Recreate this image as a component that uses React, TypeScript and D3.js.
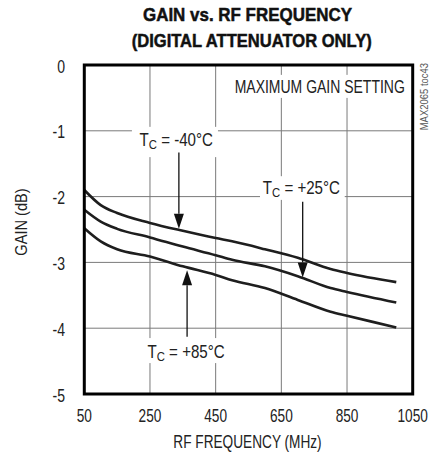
import React from "react";
import * as d3 from "d3";

const FREQ = [50, 100, 150, 250, 350, 450, 500, 600, 700, 800, 850, 1000];
const GAIN_M40 = [-1.9, -2.13, -2.25, -2.4, -2.52, -2.63, -2.68, -2.8, -2.93, -3.1, -3.16, -3.3];
const GAIN_P25 = [-2.2, -2.38, -2.49, -2.62, -2.76, -2.89, -2.96, -3.06, -3.21, -3.39, -3.45, -3.61];
const GAIN_P85 = [-2.48, -2.68, -2.8, -2.91, -3.06, -3.19, -3.27, -3.39, -3.57, -3.75, -3.81, -3.99];
const X_TICKS = [50, 250, 450, 650, 850, 1050];
const Y_TICKS = [0, -1, -2, -3, -4, -5];

const SERIES = [GAIN_M40, GAIN_P25, GAIN_P85];

const LABELS = [
  { temp: "-40°C", f: 330, g: -1.14, bf0: 195, bf1: 457, bg0: -0.94, bg1: -1.4 },
  { temp: "+25°C", f: 711, g: -1.87, bf0: 585, bf1: 843, bg0: -1.69, bg1: -2.05 },
  { temp: "+85°C", f: 360, g: -4.36, bf0: 238, bf1: 481, bg0: -4.15, bg1: -4.53 },
];
const ARROWS = [
  { f: 338, g0: -1.33, g1: -2.49 },
  { f: 715, g0: -2.08, g1: -3.23 },
  { f: 363, g0: -4.13, g1: -3.12 },
];

const FONT = "'Liberation Sans', Arial, sans-serif";

function CText(props: {
  x: number;
  y: number;
  sx?: number;
  rot?: number;
  anchor?: string;
  size: number;
  fill?: string;
  children: React.ReactNode;
}) {
  const { x, y, sx = 0.78, rot = 0, anchor = "start", size, fill = "#222", children } = props;
  return (
    <text
      transform={`translate(${x},${y})${rot ? ` rotate(${rot})` : ""} scale(${sx},1)`}
      textAnchor={anchor}
      fontSize={size}
      fill={fill}
    >
      {children}
    </text>
  );
}

export default function App() {
  const W = 430, H = 458;
  const L = 84.3, R = 412.7, T = 65, B = 394;
  const x = d3.scaleLinear().domain([50, 1050]).range([L, R]);
  const y = d3.scaleLinear().domain([0, -5]).range([T, B]);
  const line = d3
    .line<number>()
    .x((_, i) => x(FREQ[i]))
    .y((d) => y(d))
    .curve(d3.curveMonotoneX);

  return (
    <svg width={W} height={H} style={{ position: "absolute", left: 0, top: 0, background: "#fff" }} fontFamily={FONT}>
      <rect x={0} y={0} width={W} height={H} fill="#fff" />
      {/* title */}
      <text x={247.5} y={20.7} textAnchor="middle" fontSize={18.5} fontWeight="bold" textLength={209} lengthAdjust="spacingAndGlyphs" fill="#111" stroke="#111" strokeWidth={0.5}>
        GAIN vs. RF FREQUENCY
      </text>
      <text x={251.7} y={47.3} textAnchor="middle" fontSize={18.5} fontWeight="bold" textLength={240} lengthAdjust="spacingAndGlyphs" fill="#111" stroke="#111" strokeWidth={0.5}>
        (DIGITAL ATTENUATOR ONLY)
      </text>

      {/* grid */}
      {X_TICKS.slice(1, -1).map((t) => (
        <line key={"gx" + t} x1={x(t)} x2={x(t)} y1={T} y2={B} stroke="#7a7a7a" strokeWidth={1} />
      ))}
      {Y_TICKS.slice(1, -1).map((t) => (
        <line key={"gy" + t} x1={L} x2={R} y1={y(t)} y2={y(t)} stroke="#7a7a7a" strokeWidth={1} />
      ))}

      {/* label boxes */}
      {LABELS.map((l, i) => (
        <rect key={"bx" + i} x={x(l.bf0)} y={y(l.bg0)} width={x(l.bf1) - x(l.bf0)} height={y(l.bg1) - y(l.bg0)} fill="#fff" />
      ))}
      <rect x={x(500) - 1} y={y(-0.15)} width={x(1030) - x(500) + 1} height={y(-0.5) - y(-0.15)} fill="#fff" />

      {/* curves */}
      {SERIES.map((s, i) => (
        <path key={"s" + i} d={line(s) || ""} fill="none" stroke="#1e1e1e" strokeWidth={2.6} strokeLinejoin="round" />
      ))}

      {/* arrows */}
      {ARROWS.map((a, i) => {
        const ax = x(a.f);
        const y0 = y(a.g0);
        const y1 = y(a.g1);
        const dir = y1 > y0 ? 1 : -1;
        const hl = 15, hw = 5;
        return (
          <g key={"a" + i}>
            <line x1={ax} x2={ax} y1={y0} y2={y1 - dir * hl} stroke="#111" strokeWidth={1.3} />
            <path d={`M${ax},${y1} L${ax - hw},${y1 - dir * hl} L${ax + hw},${y1 - dir * hl} Z`} fill="#111" />
          </g>
        );
      })}

      {/* labels */}
      {LABELS.map((l, i) => (
        <CText key={"lt" + i} x={x(l.f)} y={y(l.g) + 6} anchor="middle" size={18} sx={0.84}>
          T<tspan fontSize={13.5} dy={3}>C</tspan>
          <tspan dy={-3}>{" = " + l.temp}</tspan>
        </CText>
      ))}
      <CText x={x(1026)} y={y(-0.43)} anchor="end" size={17.5} sx={0.8}>
        MAXIMUM GAIN SETTING
      </CText>

      {/* frame */}
      <rect x={L} y={T} width={R - L} height={B - T} fill="none" stroke="#000" strokeWidth={3} />

      {/* y ticks */}
      {Y_TICKS.map((t) => (
        <CText key={"yt" + t} x={65} y={y(t) + 7.5} anchor="end" size={18}>
          {t === 0 ? "0" : "-" + Math.abs(t)}
        </CText>
      ))}
      {/* x ticks */}
      {X_TICKS.map((t) => (
        <CText key={"xt" + t} x={x(t)} y={421.7} anchor="middle" size={17.5}>
          {t}
        </CText>
      ))}
      <CText x={247.5} y={448} anchor="middle" size={17.5}>
        RF FREQUENCY (MHz)
      </CText>
      <CText x={27} y={222} rot={-90} anchor="middle" size={17} sx={0.86}>
        GAIN (dB)
      </CText>
      <CText x={427.5} y={63} rot={-90} anchor="end" size={11} sx={0.86} fill="#555">
        MAX2065 toc43
      </CText>
    </svg>
  );
}
